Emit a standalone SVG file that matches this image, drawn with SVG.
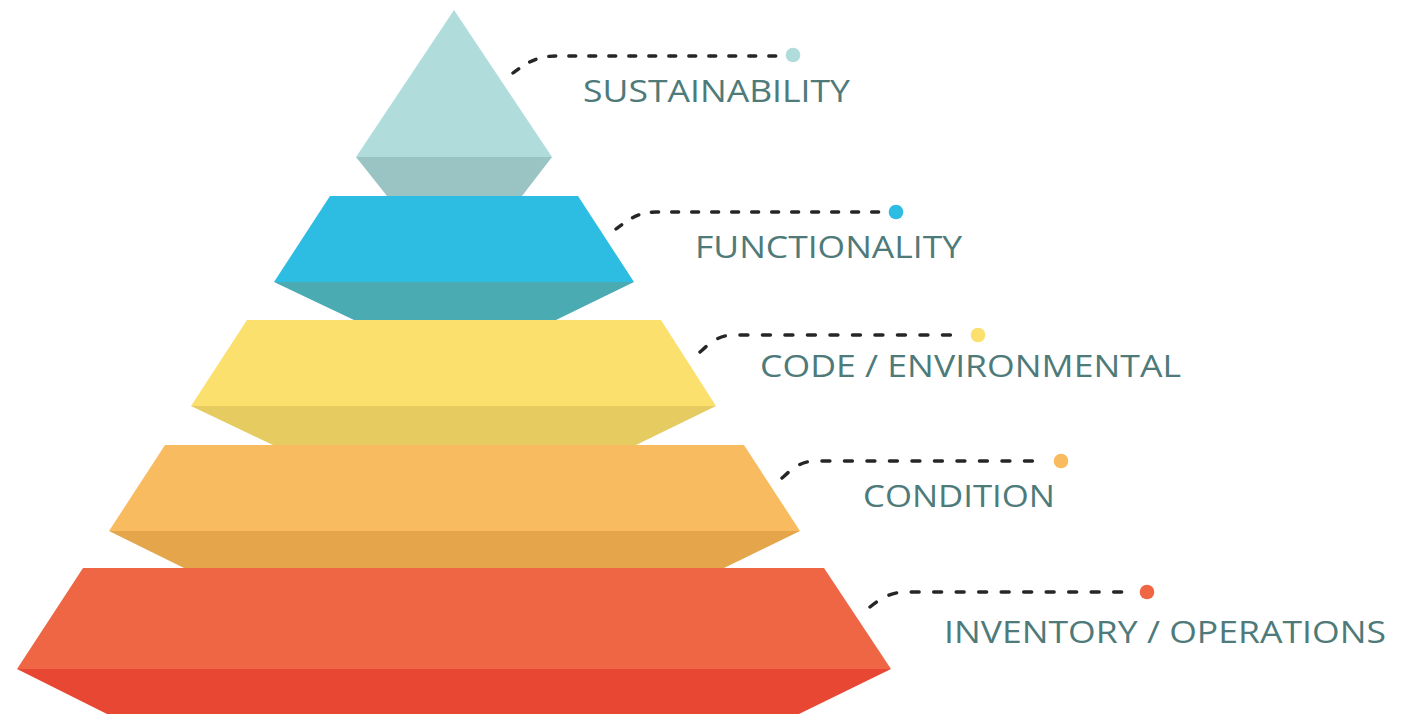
<svg xmlns="http://www.w3.org/2000/svg" width="1409" height="714" viewBox="0 0 1409 714">
  <style>
    .lead { fill: none; stroke: #262626; stroke-width: 3.4; stroke-linecap: round; stroke-dasharray: 7 13; }
    .lead.wide { stroke-dasharray: 8 14.5; }
    .label { font-family: "Open Sans", "Noto Sans", "Liberation Sans", sans-serif; font-size: 31px; fill: #4e7a7a; }
  </style>
  <rect width="1409" height="714" fill="#ffffff"/>

  <!-- pyramid tiers, top to bottom -->
  <g id="tier-sustainability">
    <polygon points="454,10 552,157 356,157" fill="#b0dcdb"/>
    <polygon points="356,157 552,157 522,196 387,196" fill="#99c4c3"/>
  </g>
  <g id="tier-functionality">
    <polygon points="330,196 578,196 634,282 274,282" fill="#2dbde2"/>
    <polygon points="274,282 634,282 556,320 354,320" fill="#4aabb3"/>
  </g>
  <g id="tier-code">
    <polygon points="247,320 661,320 716,406 191,406" fill="#fbe06e"/>
    <polygon points="191,406 716,406 636,445 273,445" fill="#e5cb60"/>
  </g>
  <g id="tier-condition">
    <polygon points="165,445 744,445 800,531 109,531" fill="#f9bb5f"/>
    <polygon points="109,531 800,531 724,568 184,568" fill="#e5a54a"/>
  </g>
  <g id="tier-inventory">
    <polygon points="83,568 824,568 891,669 17,669" fill="#ef6644"/>
    <polygon points="17,669 891,669 799,714 107,714" fill="#e84733"/>
  </g>

  <!-- dashed leader lines -->
  <g id="connectors">
    <path class="lead" d="M513,73 C525,64 536,56 556,56 L780,56"/>
    <path class="lead" d="M616,229 C628,220 638,212 656,212 L882,212"/>
    <path class="lead wide" d="M700,352 C710,343 718,335 734,335 L964,335"/>
    <path class="lead wide" d="M782,478 C792,469 800,461 816,461 L1040,461"/>
    <path class="lead wide" d="M870,607 C880,599 890,592 906,592 L1133,592"/>
  </g>

  <!-- end dots and labels -->
  <g id="label-sustainability">
    <circle cx="793" cy="55" r="7.3" fill="#b0dcdb"/>
    <text class="label" x="583" y="102" textLength="267" lengthAdjust="spacingAndGlyphs">SUSTAINABILITY</text>
  </g>
  <g id="label-functionality">
    <circle cx="896" cy="212" r="7.3" fill="#2dbde2"/>
    <text class="label" x="695" y="258" textLength="267" lengthAdjust="spacingAndGlyphs">FUNCTIONALITY</text>
  </g>
  <g id="label-code">
    <circle cx="978" cy="335" r="7.3" fill="#fbe06e"/>
    <text class="label" x="760" y="377" textLength="421" lengthAdjust="spacingAndGlyphs">CODE / ENVIRONMENTAL</text>
  </g>
  <g id="label-condition">
    <circle cx="1061" cy="461" r="7.3" fill="#f9bb5f"/>
    <text class="label" x="863" y="507" textLength="192" lengthAdjust="spacingAndGlyphs">CONDITION</text>
  </g>
  <g id="label-inventory">
    <circle cx="1147" cy="592" r="7.3" fill="#ef6644"/>
    <text class="label" x="944" y="643" textLength="442" lengthAdjust="spacingAndGlyphs">INVENTORY / OPERATIONS</text>
  </g>
</svg>
